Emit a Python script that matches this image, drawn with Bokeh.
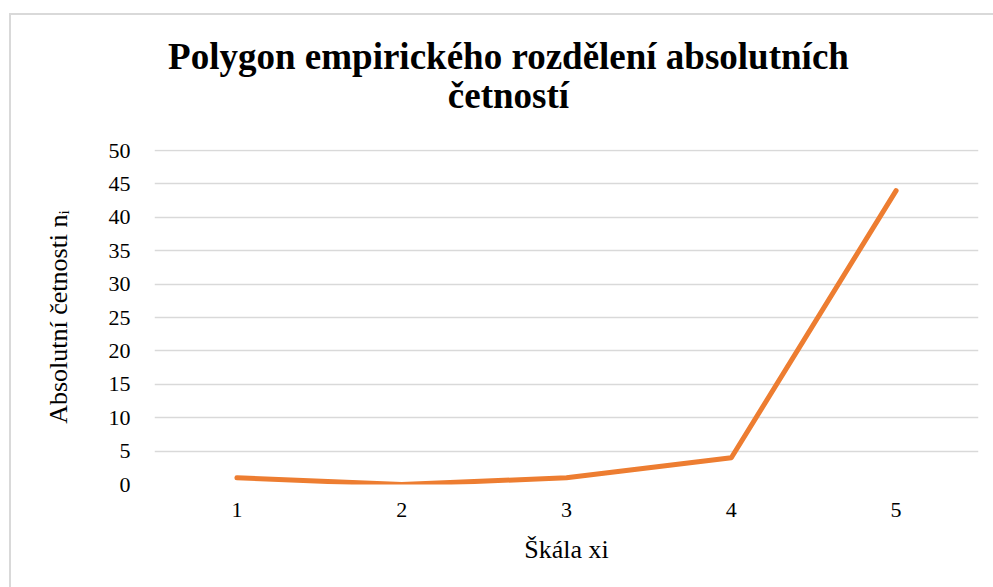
from bokeh.plotting import figure
from bokeh.models import FactorRange, Range1d, SingleIntervalTicker
from bokeh.embed import file_html
from bokeh.resources import INLINE

# ---- data ----
categories = ["1", "2", "3", "4", "5"]
counts = [1, 0, 1, 4, 44]
title_text = "Polygon empirického rozdělení absolutních\nčetností"
x_label = "Škála xi"
y_label = "Absolutní četnosti nᵢ"

SERIF = "Liberation Serif"
GRID = "#d9d9d9"

p = figure(
    width=993, height=587,
    x_range=FactorRange(factors=categories, range_padding=0),
    y_range=Range1d(0, 50.15),
    output_backend="svg", toolbar_location=None,
    min_border_left=154, min_border_right=15,
    min_border_top=149, min_border_bottom=103,
)
p.outline_line_color = None
p.background_fill_color = "white"
p.border_fill_alpha = 0
# light grey chart-area border (left and top edges visible in the window)
p.styles = {
    "background": (
        f"linear-gradient({GRID},{GRID}) 9px 13px / 2px 100% no-repeat, "
        f"linear-gradient({GRID},{GRID}) 9px 13px / 100% 2px no-repeat, white"
    )
}

p.line(x=categories, y=counts, line_color="#ED7D31", line_width=5,
       line_cap="round", line_join="round")

# title
p.title.text = title_text
p.title.align = "center"
try:
    p.title.text_align = "center"
except AttributeError:
    pass
p.title.text_font = SERIF
p.title.text_font_style = "bold"
p.title.text_font_size = "37px"
p.title.text_color = "black"
p.title.text_line_height = 0.97
p.title.standoff = 10
p.title.padding = dict(left=0, right=116, top=0, bottom=28)

# axes
p.yaxis.ticker = SingleIntervalTicker(interval=5)
p.yaxis.minor_tick_line_color = None
for ax in (p.xaxis[0], p.yaxis[0]):
    ax.axis_line_color = None
    ax.major_tick_line_color = None
    ax.major_tick_in = 0
    ax.major_tick_out = 0
    ax.major_label_text_font = SERIF
    ax.major_label_text_font_size = "22px"
    ax.major_label_text_color = "black"
    ax.axis_label_text_font = SERIF
    ax.axis_label_text_font_style = "normal"
    ax.axis_label_text_font_size = "26px"
    ax.axis_label_text_color = "black"
p.xaxis.axis_label = x_label
p.yaxis.axis_label = y_label
p.yaxis.major_label_standoff = 20
p.xaxis.major_label_standoff = 18
p.xaxis.axis_label_standoff = 15
p.yaxis.axis_label_standoff = 33

p.xgrid.grid_line_color = None
p.ygrid.grid_line_color = GRID
p.ygrid.grid_line_width = 1.5

open("out.html", "w").write(file_html(p, INLINE))
